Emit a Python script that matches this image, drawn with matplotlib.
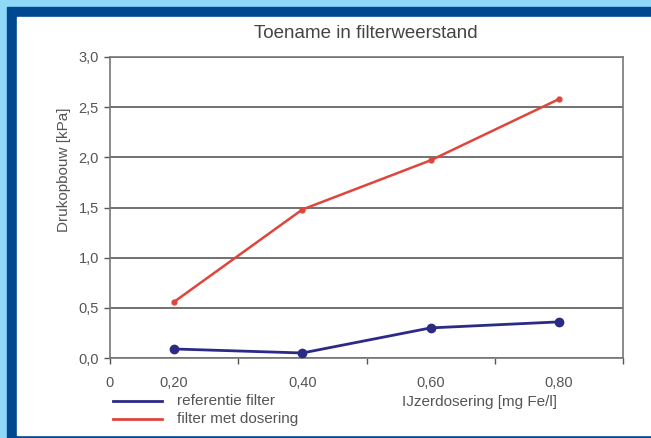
import matplotlib.pyplot as plt
from matplotlib.patches import Rectangle

# dosering categories and measured pressure build-up (kPa)
categories = ['0,20', '0,40', '0,60', '0,80']
referentie = [0.09, 0.05, 0.30, 0.36]
met_dosering = [0.56, 1.48, 1.97, 2.58]
y_ticks = [0.0, 0.5, 1.0, 1.5, 2.0, 2.5, 3.0]
y_labels = ['0,0', '0,5', '1,0', '1,5', '2,0', '2,5', '3,0']

W, H = 651, 438
plt.rcParams['font.family'] = ['Liberation Sans', 'DejaVu Sans']

grey = '#555555'
blue = '#2b2a86'
red = '#e0453c'

fig = plt.figure(figsize=(W / 100, H / 100), dpi=100, facecolor='#8fd8f6')

# dark blue frame and white panel (pixel boxes converted to figure fractions)
def px_rect(x0, y0, x1, y1, color):
  fig.patches.append(Rectangle((x0 / W, 1 - y1 / H), (x1 - x0) / W, (y1 - y0) / H,
                               transform=fig.transFigure, color=color, zorder=-10))

px_rect(7, 7, W, H, '#004890')
px_rect(17, 17, W, 435, 'white')

ax = fig.add_axes([110 / W, (H - 358) / H, (623 - 110) / W, (358 - 57) / H])
ax.set_facecolor('white')

xs = [i + 0.5 for i in range(len(categories))]
ax.plot(xs, referentie, color=blue, lw=2, marker='o', ms=6, zorder=3)
ax.plot(xs, met_dosering, color=red, lw=1.8, marker='o', ms=3.5, zorder=3)

ax.set_xlim(0, len(categories))
ax.set_ylim(0, 3.0)

ax.set_yticks(y_ticks)
ax.set_yticklabels(y_labels)
ax.yaxis.grid(True, color='#666666', lw=1.3)
ax.set_axisbelow(True)

# category boundaries carry the tick marks, labels sit in the middle
ax.xaxis.remove_overlapping_locs = False
ax.set_xticks(range(len(categories) + 1))
ax.set_xticklabels([])
ax.set_xticks([0] + xs, minor=True)
ax.set_xticklabels(['0'] + categories, minor=True)
ax.tick_params(axis='x', which='major', length=4, color=grey, width=1)
ax.tick_params(axis='x', which='minor', length=0, pad=13)
ax.tick_params(axis='y', length=4, color=grey, width=1, pad=4)
ax.tick_params(which='both', labelsize=10.5, labelcolor=grey)

for s in ax.spines.values():
  s.set_color('#777777')
  s.set_linewidth(1.2)

fig.text(366 / W, 1 - 33 / H, 'Toename in filterweerstand', ha='center', va='center',
         fontsize=13.5, color='#444444')
fig.text(64 / W, 1 - 170 / H, 'Drukopbouw [kPa]', rotation=90, ha='center', va='center',
         fontsize=11, color=grey)
fig.text(479 / W, 1 - 402 / H, 'IJzerdosering [mg Fe/l]', ha='center', va='center',
         fontsize=11, color=grey)

# legend drawn by hand below the axis
for ypix, col, label in [(401, blue, 'referentie filter'), (419, red, 'filter met dosering')]:
  fig.lines.append(plt.Line2D([113 / W, 162 / W], [1 - ypix / H] * 2, color=col, lw=2,
                              transform=fig.transFigure))
  fig.text(177 / W, 1 - ypix / H, label, ha='left', va='center', fontsize=11, color=grey)

fig.savefig('out.png', dpi=100, facecolor=fig.get_facecolor())
